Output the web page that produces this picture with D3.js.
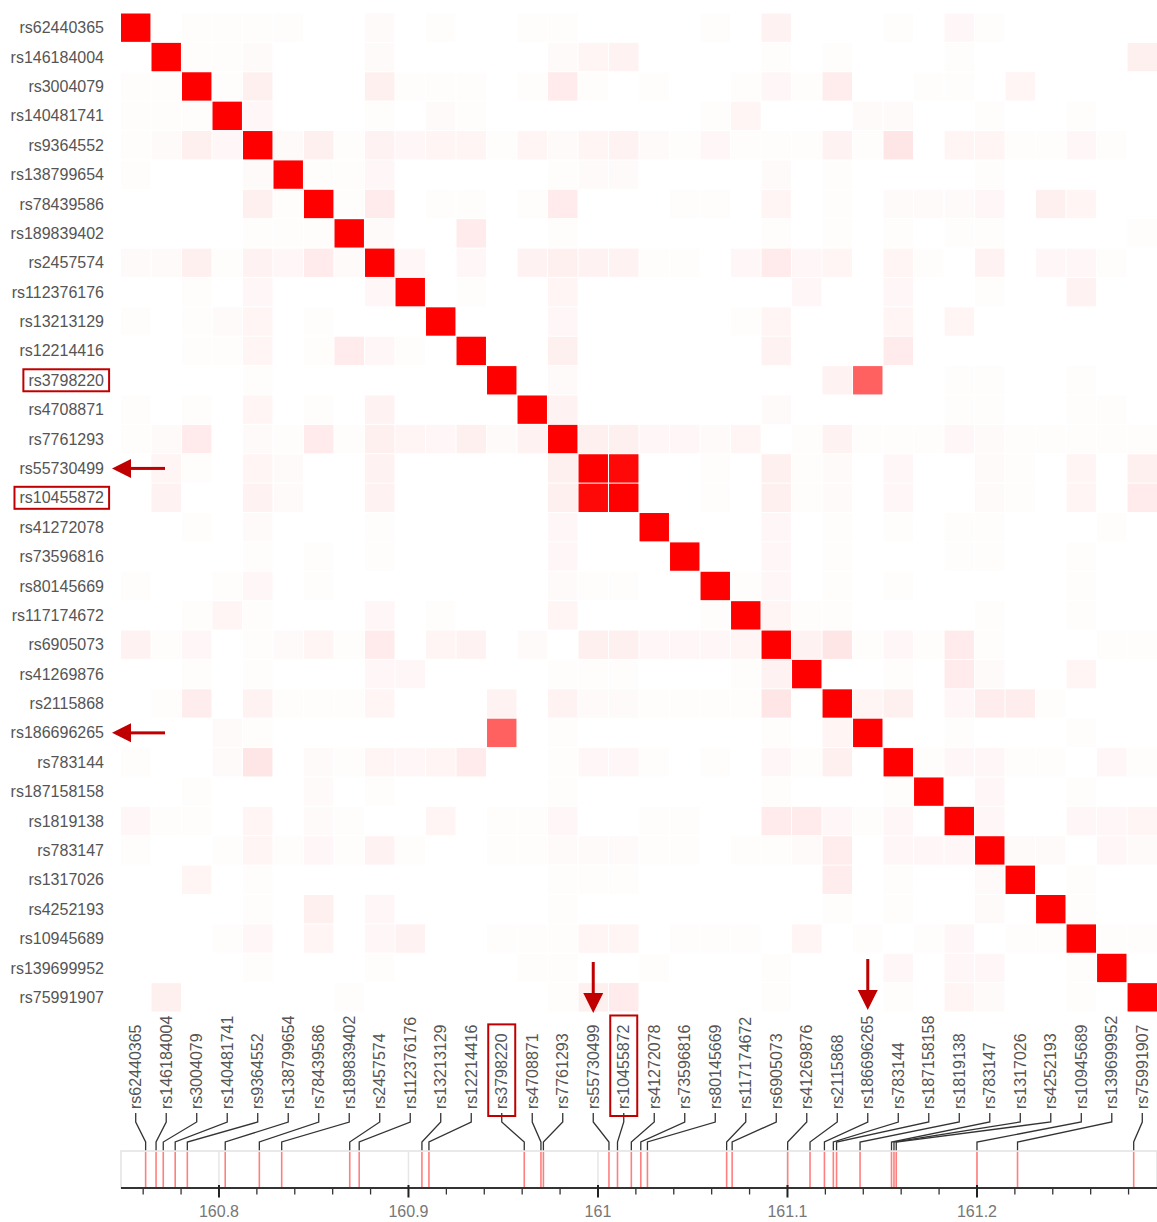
<!DOCTYPE html>
<html>
<head>
<meta charset="utf-8">
<script src="https://cdn.jsdelivr.net/npm/d3@7"></script>
<style>
  html, body { margin: 0; padding: 0; background: #fff; }
  svg { display: block; font-family: "Liberation Sans", Arial, sans-serif; }
</style>
</head>
<body>
<svg id="chart" width="1157" height="1222"></svg>
<script>
// SNPs in genomic order (chr6, LPA region)
const snps = [
  "rs62440365", "rs146184004", "rs3004079", "rs140481741", "rs9364552",
  "rs138799654", "rs78439586", "rs189839402", "rs2457574", "rs112376176",
  "rs13213129", "rs12214416", "rs3798220", "rs4708871", "rs7761293",
  "rs55730499", "rs10455872", "rs41272078", "rs73596816", "rs80145669",
  "rs117174672", "rs6905073", "rs41269876", "rs2115868", "rs186696265",
  "rs783144", "rs187158158", "rs1819138", "rs783147", "rs1317026",
  "rs4252193", "rs10945689", "rs139699952", "rs75991907"
];

// Position of each SNP (Mb)
const positionsMb = [
  160.7613, 160.7668, 160.7706, 160.7769, 160.7833,
  160.8033, 160.8213, 160.8331, 160.8690, 160.8740,
  160.9071, 160.9108, 160.9611, 160.9699, 160.9712,
  161.0058, 161.0103, 161.0176, 161.0226, 161.0261,
  161.0679, 161.0708, 161.1001, 161.1119, 161.1195,
  161.1242, 161.1259, 161.1383, 161.1549, 161.1562,
  161.1574, 161.2000, 161.2214, 161.2827
];

// Pairwise LD (r²), lower triangle: row i holds SNP i against SNPs 0..i-1
const ldLower = [
  [],
  [0],
  [0.01, 0.01],
  [0.01, 0.01, 0.01],
  [0.01, 0.02, 0.06, 0.03],
  [0.01, 0, 0, 0, 0.02],
  [0, 0, 0, 0, 0.06, 0.01],
  [0, 0, 0, 0, 0.01, 0.01, 0.01],
  [0.02, 0.02, 0.06, 0.01, 0.05, 0.03, 0.08, 0.02],
  [0, 0, 0.01, 0, 0.03, 0, 0, 0, 0.03],
  [0.01, 0, 0.01, 0.02, 0.04, 0, 0.01, 0, 0, 0],
  [0, 0, 0.01, 0.01, 0.04, 0, 0.01, 0.08, 0.03, 0.01, 0],
  [0, 0, 0, 0, 0.01, 0, 0, 0, 0, 0, 0, 0],
  [0.01, 0, 0.01, 0, 0.04, 0, 0.01, 0, 0.05, 0, 0, 0, 0],
  [0.01, 0.02, 0.08, 0, 0.02, 0.01, 0.08, 0.01, 0.06, 0.04, 0.03, 0.06, 0.02, 0.05],
  [0, 0.04, 0.01, 0, 0.04, 0.02, 0, 0, 0.05, 0, 0, 0, 0, 0, 0.06],
  [0, 0.05, 0, 0, 0.05, 0.02, 0, 0, 0.05, 0, 0, 0, 0, 0, 0.06, 0.97],
  [0, 0, 0.01, 0, 0.02, 0, 0, 0, 0.01, 0, 0, 0, 0, 0, 0.03, 0, 0],
  [0, 0, 0, 0, 0.01, 0, 0.01, 0, 0.01, 0, 0, 0, 0, 0, 0.03, 0, 0, 0],
  [0.01, 0, 0, 0.01, 0.03, 0, 0.01, 0, 0, 0, 0, 0, 0, 0, 0.02, 0.01, 0.01, 0, 0],
  [0, 0, 0.01, 0.04, 0.01, 0, 0, 0, 0.03, 0, 0.01, 0, 0, 0, 0.04, 0, 0, 0, 0, 0.01],
  [0.05, 0.01, 0.03, 0, 0.01, 0.02, 0.04, 0.01, 0.08, 0, 0.04, 0.05, 0, 0.02, 0, 0.06, 0.06, 0.03, 0.03, 0.03, 0.04],
  [0, 0, 0.01, 0, 0.01, 0, 0, 0, 0.03, 0.03, 0, 0, 0, 0, 0.01, 0.01, 0.01, 0, 0, 0, 0.01, 0.05],
  [0, 0.01, 0.07, 0, 0.05, 0.01, 0.01, 0.01, 0.04, 0, 0, 0, 0.05, 0, 0.05, 0.02, 0.02, 0.01, 0.01, 0.01, 0.01, 0.10, 0],
  [0, 0, 0, 0.02, 0.01, 0, 0, 0, 0, 0, 0, 0, 0.62, 0, 0.01, 0, 0, 0, 0, 0, 0, 0.01, 0, 0.04],
  [0.01, 0, 0, 0.02, 0.10, 0, 0.02, 0.01, 0.04, 0.03, 0.04, 0.08, 0, 0, 0.01, 0.03, 0.03, 0.01, 0, 0.01, 0, 0.03, 0.01, 0.06, 0],
  [0, 0, 0.01, 0, 0, 0, 0.02, 0, 0.01, 0, 0, 0, 0, 0, 0.01, 0, 0, 0, 0, 0, 0, 0.01, 0, 0, 0, 0.01],
  [0.03, 0.01, 0.01, 0, 0.04, 0, 0.02, 0.01, 0, 0, 0.04, 0, 0.01, 0.01, 0.03, 0, 0, 0.01, 0.01, 0, 0, 0.08, 0.08, 0.03, 0.01, 0.03, 0],
  [0.01, 0, 0, 0.01, 0.04, 0.01, 0.03, 0.01, 0.05, 0.01, 0, 0, 0.01, 0.01, 0.02, 0.02, 0.02, 0.01, 0.01, 0, 0.01, 0.01, 0.02, 0.07, 0, 0.03, 0.03, 0.03],
  [0, 0, 0.04, 0, 0.01, 0, 0, 0, 0, 0, 0, 0, 0, 0, 0.01, 0.01, 0.01, 0, 0, 0, 0, 0, 0, 0.07, 0, 0.01, 0, 0, 0.02],
  [0, 0, 0, 0, 0.01, 0, 0.06, 0, 0.03, 0, 0, 0, 0, 0, 0.01, 0, 0, 0, 0, 0, 0, 0, 0, 0.01, 0, 0.01, 0, 0, 0.02, 0],
  [0, 0, 0, 0.01, 0.03, 0, 0.04, 0, 0.03, 0.05, 0, 0, 0.01, 0.01, 0.01, 0.04, 0.04, 0, 0.01, 0.01, 0.01, 0, 0.04, 0, 0.01, 0, 0.01, 0.03, 0, 0.01, 0.01],
  [0, 0, 0, 0, 0.01, 0, 0, 0, 0.01, 0, 0, 0, 0, 0.01, 0.01, 0, 0, 0.01, 0, 0, 0, 0.01, 0, 0, 0, 0.03, 0, 0.03, 0.03, 0, 0, 0.01],
  [0, 0.06, 0, 0, 0, 0, 0, 0.01, 0, 0, 0, 0, 0, 0, 0.01, 0.06, 0.08, 0, 0, 0, 0, 0.01, 0, 0, 0, 0.01, 0, 0.04, 0.02, 0, 0, 0.01, 0]
];

// Annotated SNPs
const boxedSnps = ["rs3798220", "rs10455872"];
const arrowSnps = ["rs55730499", "rs186696265"];

// Genomic axis
const axisDomainMb = [160.7483, 161.295];
const majorTicksMb = [160.8, 160.9, 161.0, 161.1, 161.2];
const minorStepMb = 0.02;

// ---- layout ----
const svg = d3.select("#chart");
const matrixLeft = 121, matrixRight = 1157;
const matrixTop = 13.5, matrixBottom = 1011.5;
const labelEndY = 1109;          // bottom end of rotated column labels
const trackTop = 1151, trackBottom = 1188;
const annotRed = "#c00000";

const xBand = d3.scaleBand().domain(snps).range([matrixLeft, matrixRight]).paddingInner(0.035);
const yBand = d3.scaleBand().domain(snps).range([matrixTop, matrixBottom]).paddingInner(0.035);
const color = d3.scaleLinear().domain([0, 1]).range(["#ffffff", "#ff0000"]);
const xGen = d3.scaleLinear().domain(axisDomainMb).range([matrixLeft, matrixRight]);

const ld = (i, j) => i === j ? 1 : (i > j ? ldLower[i][j] : ldLower[j][i]);

const cells = [];
snps.forEach((a, i) => snps.forEach((b, j) => cells.push({ row: a, col: b, r2: ld(i, j) })));

// ---- heatmap ----
svg.append("g").selectAll("rect").data(cells).join("rect")
  .attr("x", d => xBand(d.col))
  .attr("y", d => yBand(d.row))
  .attr("width", xBand.bandwidth())
  .attr("height", yBand.bandwidth())
  .attr("fill", d => color(d.r2));

// ---- row labels ----
const rowLabels = svg.append("g").selectAll("text").data(snps).join("text")
  .attr("x", 104)
  .attr("y", d => yBand(d) + yBand.bandwidth() / 2)
  .attr("dy", "0.35em")
  .attr("text-anchor", "end")
  .attr("font-size", 16)
  .attr("fill", "#555")
  .text(d => d);

// ---- column labels (rotated, reading upwards) ----
const colCenter = d => xBand(d) + xBand.bandwidth() / 2;
const colLabels = svg.append("g").selectAll("text").data(snps).join("text")
  .attr("transform", d => `translate(${colCenter(d)},${labelEndY}) rotate(-90)`)
  .attr("dy", "0.35em")
  .attr("text-anchor", "start")
  .attr("font-size", 16)
  .attr("fill", "#555")
  .text(d => d);

// ---- connectors from labels to genomic positions ----
svg.append("g").selectAll("path").data(snps).join("path")
  .attr("d", (d, i) => {
    const lx = colCenter(d), sx = xGen(positionsMb[i]);
    return d3.line()([[lx, labelEndY + 4], [lx, 1122], [sx, 1142], [sx, trackTop]]);
  })
  .attr("fill", "none")
  .attr("stroke", "#333")
  .attr("stroke-width", 1.3);

// ---- position track ----
svg.append("rect")
  .attr("x", matrixLeft).attr("y", trackTop)
  .attr("width", matrixRight - matrixLeft).attr("height", trackBottom - trackTop)
  .attr("fill", "#fff").attr("stroke", "#e2e2e2").attr("stroke-width", 1.5);

svg.append("g").selectAll("line").data(majorTicksMb).join("line")
  .attr("x1", d => xGen(d)).attr("x2", d => xGen(d))
  .attr("y1", trackTop).attr("y2", trackBottom)
  .attr("stroke", "#e6e6e6").attr("stroke-width", 1.5);

svg.append("g").selectAll("line").data(positionsMb).join("line")
  .attr("x1", d => xGen(d)).attr("x2", d => xGen(d))
  .attr("y1", trackTop + 1).attr("y2", trackBottom)
  .attr("stroke", "#ff7f7f").attr("stroke-width", 1.6);

// ---- genomic axis ----
const minorTicks = d3.range(Math.ceil(axisDomainMb[0] / minorStepMb), Math.floor(axisDomainMb[1] / minorStepMb) + 1)
  .map(k => +(k * minorStepMb).toFixed(2))
  .filter(v => !majorTicksMb.some(m => Math.abs(m - v) < 1e-6));

const axisG = svg.append("g");
axisG.append("line")
  .attr("x1", matrixLeft).attr("x2", matrixRight)
  .attr("y1", trackBottom).attr("y2", trackBottom)
  .attr("stroke", "#333").attr("stroke-width", 2);
axisG.selectAll(".minor").data(minorTicks).join("line")
  .attr("class", "minor")
  .attr("x1", d => xGen(d)).attr("x2", d => xGen(d))
  .attr("y1", trackBottom).attr("y2", trackBottom + 6.5)
  .attr("stroke", "#333").attr("stroke-width", 1.3);
axisG.selectAll(".major").data(majorTicksMb).join("line")
  .attr("class", "major")
  .attr("x1", d => xGen(d)).attr("x2", d => xGen(d))
  .attr("y1", trackBottom - 3).attr("y2", trackBottom + 9.5)
  .attr("stroke", "#222").attr("stroke-width", 2);
axisG.selectAll("text").data(majorTicksMb).join("text")
  .attr("x", d => xGen(d))
  .attr("y", 1217)
  .attr("text-anchor", "middle")
  .attr("font-size", 16)
  .attr("fill", "#777")
  .text(d => d3.format("")(+d.toFixed(1)));

// ---- highlight boxes ----
const boxG = svg.append("g").attr("fill", "none").attr("stroke", annotRed).attr("stroke-width", 2);
rowLabels.filter(d => boxedSnps.includes(d)).each(function (d) {
  const b = this.getBBox();
  const cy = yBand(d) + yBand.bandwidth() / 2;
  boxG.append("rect")
    .attr("x", b.x - 5).attr("y", cy - 11)
    .attr("width", b.width + 10).attr("height", 22);
});
colLabels.filter(d => boxedSnps.includes(d)).each(function (d) {
  const len = this.getComputedTextLength();
  const cx = colCenter(d);
  boxG.append("rect")
    .attr("x", cx - 13.5).attr("y", labelEndY - len - 9)
    .attr("width", 27).attr("height", len + 16);
});

// ---- arrows ----
const arrowG = svg.append("g").attr("fill", annotRed).attr("stroke", "none");
arrowSnps.forEach(s => {
  const cy = yBand(s) + yBand.bandwidth() / 2;
  // horizontal arrow pointing at the row label
  arrowG.append("rect").attr("x", 129).attr("y", cy - 1.5).attr("width", 36).attr("height", 3);
  arrowG.append("path").attr("d", d3.line()([[112, cy], [131, cy - 9.5], [131, cy + 9.5]]) + "Z");
  // vertical arrow pointing at the column label
  const cx = colCenter(s);
  const top = s === arrowSnps[0] ? 962 : 959;
  const tip = s === arrowSnps[0] ? 1013 : 1010;
  arrowG.append("rect").attr("x", cx - 1.5).attr("y", top).attr("width", 3).attr("height", tip - top - 18);
  arrowG.append("path").attr("d", d3.line()([[cx, tip], [cx - 10, tip - 20], [cx + 10, tip - 20]]) + "Z");
});
</script>
</body>
</html>
